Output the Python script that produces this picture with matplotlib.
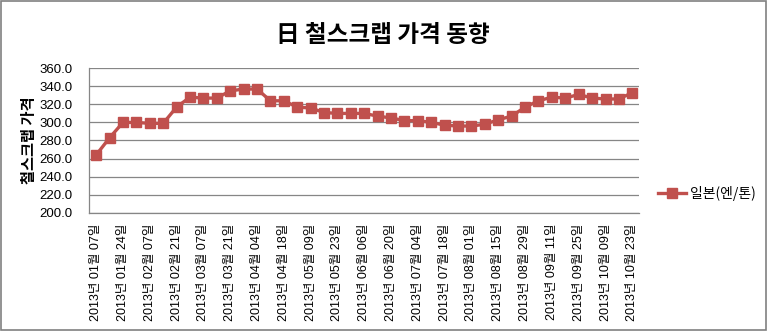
"""Japanese steel scrap price trend, 2013 (line chart)."""

import matplotlib

matplotlib.use("Agg")
import matplotlib.pyplot as plt
from matplotlib.patches import Rectangle

plt.rcParams["font.family"] = ["Liberation Sans", "Noto Sans CJK KR", "DejaVu Sans"]

# Biweekly dates; only every other one gets a tick label
label_dates = [
    "01월 07일", "01월 24일", "02월 07일", "02월 21일", "03월 07일",
    "03월 21일", "04월 04일", "04월 18일", "05월 09일", "05월 23일",
    "06월 06일", "06월 20일", "07월 04일", "07월 18일", "08월 01일",
    "08월 15일", "08월 29일", "09월 11일", "09월 25일", "10월 09일",
    "10월 23일",
]
tick_labels = ["2013년 " + d for d in label_dates]

# Price in yen per ton
prices = [
    264, 283, 300, 300, 299, 299, 317, 328, 327, 327,
    335, 337, 337, 324, 324, 317, 316, 311, 310, 310,
    310, 307, 305, 302, 302, 300, 297, 296, 296, 298,
    303, 307, 317, 324, 328, 327, 331, 327, 326, 326,
    333,
]

series_name = "일본(엔/톤)"
title = "日 철스크랩 가격 동향"
y_label = "철스크랩 가격"
y_ticks = [200, 220, 240, 260, 280, 300, 320, 340, 360]

RED = "#C0504D"
GRID = "#868686"

fig = plt.figure(figsize=(7.70, 3.31), dpi=100)
ax = fig.add_axes([0.1162, 0.3574, 0.7137, 0.4363])

x = list(range(len(prices)))
ax.plot(x, prices, color=RED, linewidth=2.4, marker="s", markersize=6.8,
        markeredgecolor=RED, label=series_name, zorder=3)

ax.set_xlim(-0.5, len(prices) - 0.5)
ax.set_ylim(200, 360)
ax.set_yticks(y_ticks)
ax.set_yticklabels([f"{v:.1f}" for v in y_ticks], fontsize=9.5)
ax.set_xticks(x[::2])
ax.set_xticklabels(tick_labels, rotation=90, fontsize=9, va="top", ha="center")
ax.tick_params(axis="y", length=0, pad=12)
ax.tick_params(axis="x", length=0, pad=8)

ax.grid(True, axis="y", color=GRID, linewidth=0.9)
ax.set_axisbelow(True)
for side in ("top", "right"):
    ax.spines[side].set_visible(False)
for side in ("left", "bottom"):
    ax.spines[side].set_color(GRID)
    ax.spines[side].set_linewidth(0.9)

fig.text(0.038, 0.577, y_label, rotation=90, ha="center", va="center",
         fontsize=11, fontweight="bold",
         family=["Noto Sans CJK KR", "DejaVu Sans"])

fig.text(0.497, 0.895, title, ha="center", va="center", fontsize=17,
         fontweight="bold", family=["Noto Sans CJK KR", "DejaVu Sans"])

ax.legend(loc="center left", bbox_to_anchor=(1.012, 0.135), frameon=False,
          handlelength=2.0, handletextpad=0.3,
          prop={"family": ["Noto Sans CJK KR", "DejaVu Sans"], "size": 10})

# outer chart border
fig.add_artist(Rectangle((0.0015, 0.004), 0.993, 0.993, transform=fig.transFigure,
                         fill=False, edgecolor="#808080", linewidth=1.2))

fig.savefig("out.png", dpi=100)
plt.close(fig)
